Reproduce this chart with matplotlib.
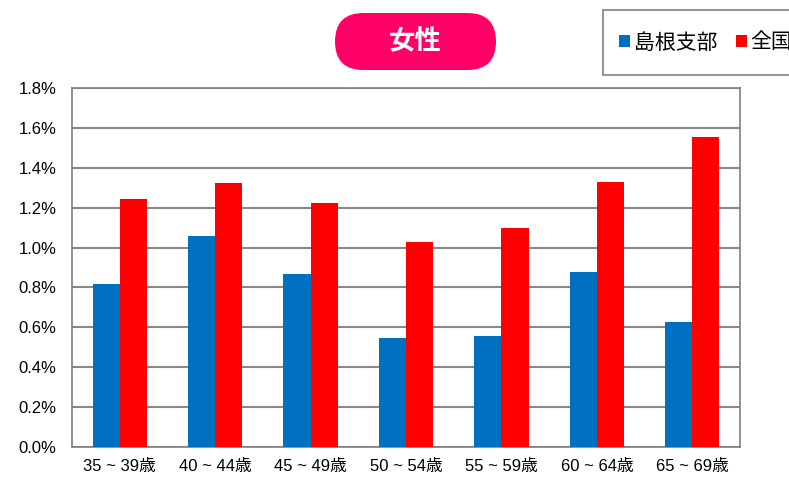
import matplotlib.pyplot as plt
import numpy as np
from matplotlib.patches import Rectangle, FancyBboxPatch
from matplotlib.ticker import FuncFormatter

categories = ["35 ~ 39歳", "40 ~ 44歳", "45 ~ 49歳", "50 ~ 54歳", "55 ~ 59歳", "60 ~ 64歳", "65 ~ 69歳"]
shimane = [0.815, 1.06, 0.865, 0.545, 0.555, 0.875, 0.625]
zenkoku = [1.245, 1.325, 1.225, 1.03, 1.10, 1.33, 1.555]
series_names = ["島根支部", "全国"]
title = "女性"

fonts = ["Liberation Sans", "Noto Sans CJK JP", "DejaVu Sans"]
plt.rcParams["font.family"] = fonts

fig = plt.figure(figsize=(7.89, 4.80), dpi=100)
ax = fig.add_axes([72 / 789, 33 / 480, 668 / 789, 359 / 480])

x = np.arange(len(categories))
w = 0.285
b1 = ax.bar(x - w / 2, shimane, w, color="#0070C0", zorder=3, label=series_names[0])
b2 = ax.bar(x + w / 2, zenkoku, w, color="#FF0000", zorder=3, label=series_names[1])

ax.set_xlim(-0.5, len(categories) - 0.5)
ax.set_ylim(0, 1.8)
ax.set_yticks(np.arange(0, 1.81, 0.2))
ax.yaxis.set_major_formatter(FuncFormatter(lambda v, p: f"{v:.1f}%"))
ax.set_xticks(x)
ax.set_xticklabels(categories, fontsize=12)
ax.tick_params(axis="y", length=0, pad=11, labelsize=12)
ax.tick_params(axis="x", length=0, pad=9)
ax.grid(axis="y", color="#888888", linewidth=1.5, zorder=0)
for s in ax.spines.values():
    s.set_color("#808080")
    s.set_linewidth(1.2)

# title pill (pixel -> inches via dpi_scale_trans)
pill = FancyBboxPatch((3.35, 4.80 - 0.70), 1.61, 0.57,
                      boxstyle="round,pad=0,rounding_size=0.285",
                      transform=fig.dpi_scale_trans, facecolor="#FF0066",
                      edgecolor="none", clip_on=False)
fig.patches.append(pill)
fig.text(4.155 / 7.89, 1 - 0.415 / 4.80, title, color="white", fontsize=19,
         fontweight="bold", ha="center", va="center")

# legend box running off the right edge
box = Rectangle((6.03, 4.80 - 0.75), 2.2, 0.65, transform=fig.dpi_scale_trans,
                facecolor="white", edgecolor="#808080", linewidth=1.2, clip_on=False)
fig.patches.append(box)
fig.legend(handles=[b1, b2], loc="center left", bbox_to_anchor=(6.19 / 7.89, 1 - 0.425 / 4.80),
           ncol=2, frameon=False, fontsize=15, handlelength=0.55, handleheight=0.55,
           handletextpad=0.15, columnspacing=0.9, borderaxespad=0, borderpad=0)

fig.savefig("out.png", dpi=100)
